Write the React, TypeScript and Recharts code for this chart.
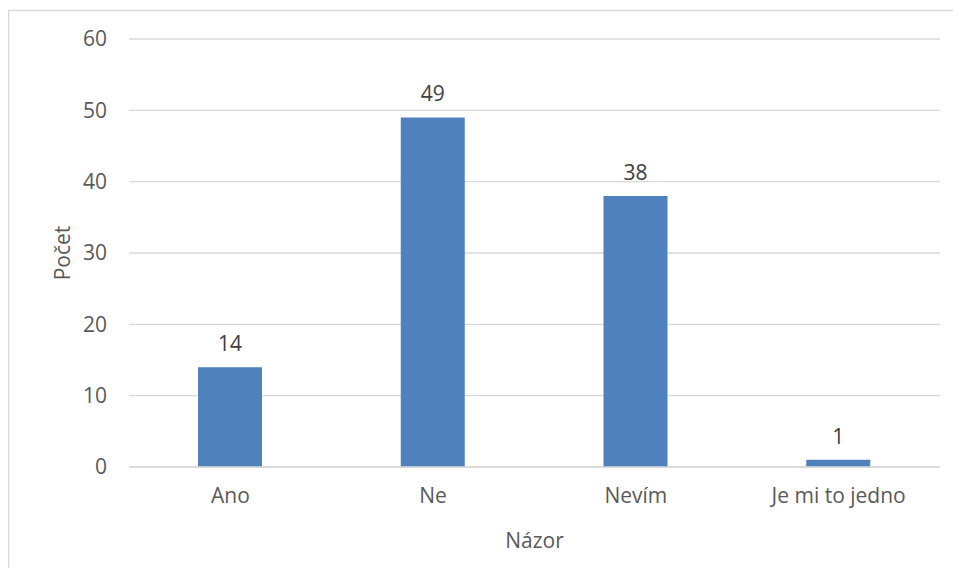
import { BarChart, Bar, XAxis, YAxis, CartesianGrid, LabelList, Label } from "recharts";

const categories = ["Ano", "Ne", "Nevím", "Je mi to jedno"];
const counts = [14, 49, 38, 1];
const yTicks = [0, 10, 20, 30, 40, 50, 60];

const data = categories.map((name, i) => ({ name, value: counts[i] }));

const font = "'Open Sans', 'Liberation Sans', sans-serif";
const fs = 21;

function YTitle(props: any) {
  const vb = props.viewBox || {};
  const cx = 62;
  const cy = vb.y + vb.height / 2;
  return (
    <text
      x={cx}
      y={cy}
      transform={`rotate(-90 ${cx} ${cy})`}
      textAnchor="middle"
      dominantBaseline="central"
      fill="#595959"
      fontSize={fs}
      fontFamily={font}
    >
      Počet
    </text>
  );
}

export default function App() {
  return (
    <div style={{ margin: -8, width: 961, height: 576, position: "relative", background: "#fff" }}>
      <svg width={961} height={576} style={{ position: "absolute", left: 0, top: 0 }}>
        <rect x={8.5} y={10.5} width={1000} height={1000} fill="none" stroke="#d9d9d9" strokeWidth={1.5} />
      </svg>
      <div style={{ position: "absolute", left: 0, top: 0 }}>
        <BarChart
          width={961}
          height={576}
          data={data}
          margin={{ top: 39, right: 21, left: 0, bottom: 0 }}
          style={{ fontFamily: font }}
        >
          <CartesianGrid vertical={false} stroke="#d9d9d9" strokeWidth={1.3} />
          <XAxis
            dataKey="name"
            height={109}
            axisLine={{ stroke: "#d9d9d9", strokeWidth: 1.3 }}
            tickLine={false}
            tickSize={0}
            tickMargin={21}
            tick={{ fill: "#595959", fontSize: fs }}
          >
            <Label value="Názor" position="insideBottom" offset={28} fill="#595959" fontSize={fs} />
          </XAxis>
          <YAxis
            width={129}
            domain={[0, 60]}
            ticks={yTicks}
            axisLine={false}
            tickLine={false}
            tickSize={0}
            tickMargin={22}
            tick={{ fill: "#595959", fontSize: fs }}
          >
            <Label content={<YTitle />} />
          </YAxis>
          <Bar dataKey="value" fill="#4f81bd" barSize={64} isAnimationActive={false}>
            <LabelList dataKey="value" position="top" offset={16} fill="#404040" fontSize={fs} />
          </Bar>
        </BarChart>
      </div>
    </div>
  );
}
